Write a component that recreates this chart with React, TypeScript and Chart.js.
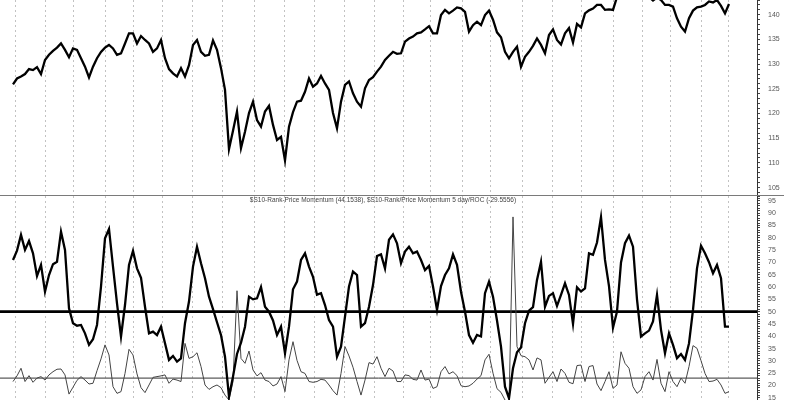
import React, { useEffect, useRef } from 'react';
import { Chart, registerables } from 'chart.js';

Chart.register(...registerables);

// bar index: one value every ~2 trading days
const price = [
  125.9, 127.1, 127.5, 128.0, 129.0, 128.8, 129.4, 128.0, 130.85, 131.9,
  132.7, 133.35, 134.2, 132.9, 131.4, 133.2, 132.9, 131.2, 129.5, 127.3,
  129.5, 131.2, 132.5, 133.35, 133.9, 133.2, 131.9, 132.2, 134.2, 136.25,
  136.25, 134.2, 135.7, 134.9, 134.2, 132.5, 133.2, 134.9, 131.2, 129.0,
  128.15, 127.5, 129.2, 127.5, 129.8, 133.9, 134.9, 132.5, 131.7, 131.9,
  134.8, 132.9, 129.2, 124.8, 112.8, 116.5, 120.4, 113.0, 116.3, 120.1,
  122.4, 118.7, 117.35, 120.4, 121.55, 117.7, 114.65, 115.3, 110.5, 117.35,
  120.3, 122.4, 122.6, 124.4, 127.1, 125.45, 126.1, 127.6, 126.1, 124.8,
  120.1, 117.0, 122.4, 125.8, 126.5, 124.1, 122.4, 121.4, 125.1, 126.8,
  127.35, 128.5, 129.5, 130.85, 131.7, 132.5, 132.1, 132.2, 134.55, 135.2,
  135.6, 136.25, 136.45, 137.05, 137.7, 136.25, 136.25, 139.95, 141.0, 140.3,
  140.85, 141.5, 141.3, 140.6, 136.6, 137.9, 138.6, 137.9, 139.95, 140.85,
  139.0, 136.45, 135.45, 132.5, 131.2, 132.5, 133.55, 129.5, 131.5, 132.5,
  133.7, 135.2, 133.9, 132.2, 135.9, 137.05, 134.9, 134.0, 136.25, 137.3,
  134.4, 138.15, 137.45, 140.3, 140.9, 141.25, 142.0, 142.0, 141.0, 141.1,
  141.0, 143.6, 144.5, 145.2, 145.6, 145.0, 145.8, 145.2, 144.6, 143.6,
  142.9, 143.5, 143.0, 142.0, 142.0, 141.65, 139.3, 137.6, 136.6, 139.3,
  140.85, 141.5, 141.65, 142.0, 142.7, 142.5, 143.0, 141.8, 140.3, 142.2,
];

const momentum = [
  71.0, 74.8, 81.2, 75.1, 78.7, 73.7, 64.5, 69.0, 58.1, 64.9,
  69.3, 70.3, 82.5, 75.1, 51.4, 45.3, 44.3, 44.6, 41.2, 36.5,
  38.8, 44.6, 60.2, 79.8, 83.6, 68.3, 53.4, 39.9, 52.7, 69.0,
  74.7, 67.6, 63.8, 52.0, 41.2, 41.9, 40.5, 43.9, 37.2, 30.4,
  32.0, 29.7, 31.0, 45.3, 54.1, 68.3, 76.4, 69.7, 63.6, 56.1,
  51.0, 45.7, 40.5, 31.7, 15.5, 23.6, 32.8, 37.4, 43.9, 56.1,
  55.0, 55.4, 60.0, 52.0, 50.0, 46.4, 40.5, 43.9, 33.1, 43.9,
  59.1, 62.2, 71.0, 73.7, 68.3, 64.2, 56.9, 57.5, 52.7, 46.6,
  43.9, 31.7, 35.8, 48.0, 60.2, 66.3, 64.9, 43.9, 45.3, 52.0,
  60.8, 72.6, 73.3, 67.6, 79.2, 81.4, 77.8, 69.7, 74.4, 76.4,
  73.7, 74.4, 71.0, 66.9, 68.6, 60.2, 50.7, 60.4, 64.9, 67.6,
  73.3, 69.0, 58.1, 50.0, 40.5, 37.4, 40.5, 39.9, 57.5, 62.2,
  56.1, 46.4, 35.8, 19.5, 14.8, 27.0, 33.5, 35.4, 45.3, 50.4,
  51.8, 62.9, 70.3, 52.0, 56.4, 57.5, 52.3, 56.8, 61.5, 56.8,
  45.0, 59.9, 58.2, 59.5, 73.7, 73.1, 78.1, 88.4, 71.0, 60.4,
  43.5, 50.0, 70.0, 77.8, 80.9, 76.4, 55.0, 39.9, 41.2, 42.3,
  46.0, 56.8, 42.6, 33.1, 41.2, 36.5, 31.1, 32.8, 30.4, 37.1,
  50.7, 67.6, 76.8, 73.7, 70.1, 65.6, 69.0, 63.6, 43.9, 43.9,
];

const roc = [
  21.6, 23.9, 27.0, 21.6, 24.0, 21.3, 23.0, 23.6, 22.2, 24.3,
  25.6, 26.6, 26.7, 24.3, 16.5, 19.3, 22.1, 23.6, 22.2, 20.6,
  20.9, 26.0, 30.8, 36.5, 32.4, 19.5, 16.8, 17.5, 24.9, 34.7,
  32.4, 24.7, 19.1, 17.1, 20.2, 23.3, 23.6, 23.9, 24.3, 20.9,
  22.6, 22.2, 21.6, 37.1, 31.0, 31.7, 33.3, 27.7, 20.2, 18.4,
  19.5, 20.2, 19.1, 16.1, 14.1, 21.6, 58.5, 31.0, 29.0, 34.0,
  26.3, 23.9, 25.2, 22.2, 21.6, 19.8, 20.6, 23.6, 17.5, 30.4,
  37.8, 30.2, 25.6, 24.9, 21.6, 21.3, 21.6, 22.5, 22.2, 20.2,
  17.9, 16.1, 24.9, 35.8, 32.0, 27.4, 21.6, 16.1, 22.2, 29.3,
  28.7, 31.7, 27.0, 23.6, 27.0, 25.9, 21.6, 21.6, 24.3, 24.0,
  22.5, 22.2, 26.3, 22.2, 22.6, 18.8, 19.5, 25.6, 27.7, 24.7,
  25.6, 24.0, 19.9, 19.5, 19.8, 20.9, 22.6, 24.0, 30.4, 32.7,
  25.0, 18.7, 17.2, 14.1, 12.0, 88.5, 35.8, 32.1, 31.7, 30.4,
  26.3, 31.2, 30.4, 20.9, 23.3, 25.6, 21.6, 26.7, 24.9, 21.3,
  20.7, 28.1, 28.3, 21.6, 27.7, 28.1, 20.6, 17.9, 21.6, 25.6,
  18.8, 20.2, 33.7, 29.0, 27.0, 19.5, 16.8, 18.2, 23.6, 25.6,
  22.2, 30.6, 20.9, 17.5, 25.6, 21.6, 19.5, 23.0, 20.9, 27.7,
  36.2, 35.1, 30.1, 24.9, 21.6, 21.8, 22.5, 20.2, 16.8, 17.5,
];

// month boundaries, in bar-index units
const monthStarts = [
  0.5, 8, 15, 23, 30, 37.25, 45, 52.5, 60.25, 67.75, 75.25, 82.75, 90.25,
  97.5, 104.25, 112.25, 119.25, 127.25, 134.75, 142, 150, 157.25, 164.25, 172, 178.75,
];

const priceRange = [103.3, 143.0];
const momentumRange = [14.1, 97.0];
const momentumLevels = [50, 23];
const xRange = [-3.25, 186];
const panelTitle =
  '$S10-Rank-Price Momentum (44.1538), $S10-Rank/Price Momentum 5 day/ROC (-29.5556)';

const FONT = 'Arial, "Liberation Sans", sans-serif';

const toXY = (arr: number[]) => arr.map((v, i) => ({ x: i, y: v }));

function baseOptions(yMin: number, yMax: number) {
  return {
    animation: false,
    responsive: false,
    maintainAspectRatio: false,
    layout: { padding: 0 },
    events: [],
    plugins: {
      legend: { display: false },
      tooltip: { enabled: false },
      title: { display: false },
    },
    elements: { point: { radius: 0 }, line: { tension: 0 } },
    scales: {
      x: {
        type: 'linear',
        min: xRange[0],
        max: xRange[1],
        afterBuildTicks: (s: any) => {
          s.ticks = monthStarts.map((v) => ({ value: v }));
        },
        ticks: { display: false },
        grid: { color: '#c2c2c2', lineWidth: 1, drawTicks: false, tickLength: 0 },
        border: { display: false, dash: [2, 3] },
        afterFit: (s: any) => {
          s.height = 0;
          s.paddingLeft = 0;
          s.paddingRight = 0;
        },
      },
      y: {
        position: 'right',
        min: yMin,
        max: yMax,
        ticks: {
          stepSize: 1,
          includeBounds: false,
          autoSkip: false,
          maxTicksLimit: 1000,
          font: { size: 7, family: FONT },
          color: '#555',
          padding: 8,
          crossAlign: 'center',
          callback: (v: number) =>
            Math.abs(v - Math.round(v)) < 1e-6 && Math.round(v) % 5 === 0 ? String(Math.round(v)) : '',
        },
        grid: { drawOnChartArea: false, drawTicks: true, tickLength: 3, color: '#444', lineWidth: 1 },
        border: { display: true, color: '#333', width: 1 },
        afterFit: (s: any) => {
          s.width = 43;
          s.paddingTop = 0;
          s.paddingBottom = 0;
        },
      },
    },
  };
}

const separatorPlugin = {
  id: 'separator',
  afterDraw(chart: any) {
    const { ctx, chartArea } = chart;
    ctx.save();
    ctx.strokeStyle = '#7a7a7a';
    ctx.lineWidth = 1;
    ctx.beginPath();
    ctx.moveTo(0, chartArea.bottom - 0.5);
    ctx.lineTo(784, chartArea.bottom - 0.5);
    ctx.stroke();
    ctx.restore();
  },
};

const levelsPlugin = {
  id: 'levels',
  beforeDatasetsDraw(chart: any) {
    const { ctx, chartArea, scales } = chart;
    ctx.save();
    momentumLevels.forEach((lvl, k) => {
      const y = scales.y.getPixelForValue(lvl);
      ctx.strokeStyle = k === 0 ? '#000' : '#333';
      ctx.lineWidth = k === 0 ? 2.6 : 1;
      ctx.beginPath();
      ctx.moveTo(chartArea.left, y);
      ctx.lineTo(chartArea.right, y);
      ctx.stroke();
    });
    ctx.restore();
  },
  afterDraw(chart: any) {
    const { ctx } = chart;
    ctx.save();
    ctx.fillStyle = '#444';
    ctx.font = `6.5px ${FONT}`;
    ctx.textAlign = 'center';
    ctx.textBaseline = 'middle';
    ctx.fillText(panelTitle, 383, 4.5);
    ctx.restore();
  },
};

export default function App() {
  const topRef = useRef<HTMLCanvasElement>(null);
  const botRef = useRef<HTMLCanvasElement>(null);

  useEffect(() => {
    const top = new Chart(topRef.current as HTMLCanvasElement, {
      type: 'line',
      data: {
        datasets: [
          {
            data: toXY(price),
            borderColor: '#000',
            borderWidth: 2.3,
            pointRadius: 0,
            fill: false,
          },
        ],
      },
      options: baseOptions(priceRange[0], priceRange[1]) as any,
      plugins: [separatorPlugin],
    });
    const bot = new Chart(botRef.current as HTMLCanvasElement, {
      type: 'line',
      data: {
        datasets: [
          {
            data: toXY(momentum),
            borderColor: '#000',
            borderWidth: 2.3,
            pointRadius: 0,
            fill: false,
          },
          {
            data: toXY(roc),
            borderColor: '#444',
            borderWidth: 1,
            pointRadius: 0,
            fill: false,
          },
        ],
      },
      options: baseOptions(momentumRange[0], momentumRange[1]) as any,
      plugins: [levelsPlugin],
    });
    return () => {
      top.destroy();
      bot.destroy();
    };
  }, []);

  return (
    <div style={{ position: 'absolute', left: 0, top: 0, width: 800, height: 400, background: '#fff' }}>
      <canvas ref={topRef} width={800} height={196} style={{ display: 'block', width: 800, height: 196 }} />
      <canvas ref={botRef} width={800} height={204} style={{ display: 'block', width: 800, height: 204 }} />
    </div>
  );
}
